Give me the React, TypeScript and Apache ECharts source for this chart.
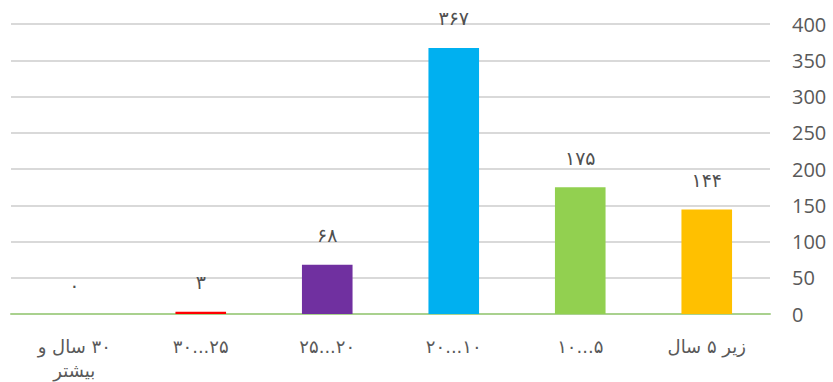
import React, { useEffect, useRef } from "react";
import * as echarts from "echarts";

const categories = ["\u200F۳۰ سال و\nبیشتر", "۳۰...۲۵", "۲۵...۲۰", "۲۰...۱۰", "۱۰...۵", "زیر ۵ سال"];
const values = [0, 3, 68, 367, 175, 144];
const barColors = ["#A5A5A5", "#FF0000", "#7030A0", "#00B0F0", "#92D050", "#FFC000"];
const yTicks = [0, 50, 100, 150, 200, 250, 300, 350, 400];

const toPersian = (n: number) => String(n).replace(/\d/g, (d) => "۰۱۲۳۴۵۶۷۸۹"[Number(d)]);

export default function App() {
  const ref = useRef<HTMLDivElement>(null);
  useEffect(() => {
    if (!ref.current) return;
    const chart = echarts.init(ref.current, undefined, { renderer: "svg" });
    chart.setOption({
      animation: false,
      grid: { left: 11, right: 63, top: 24, bottom: 66, containLabel: false },
      xAxis: {
        type: "category",
        data: categories,
        axisLine: { show: true, lineStyle: { color: "#A9D18E", width: 2 } },
        axisTick: { show: false },
        axisLabel: {
          color: "#595959",
          fontSize: 18,
          fontFamily: "DejaVu Sans",
          margin: 20,
          lineHeight: 24,
          verticalAlign: "top",
        },
      },
      yAxis: {
        type: "value",
        position: "right",
        min: yTicks[0],
        max: yTicks[yTicks.length - 1],
        interval: 50,
        axisLine: { show: false },
        axisTick: { show: false },
        splitLine: { lineStyle: { color: "#D9D9D9", width: 2 } },
        axisLabel: {
          color: "#595959",
          fontSize: 20,
          fontFamily: "Open Sans",
          margin: 22,
          align: "left",
        },
      },
      series: [
        {
          type: "bar",
          data: values.map((v, i) => ({ value: v, itemStyle: { color: barColors[i] } })),
          barWidth: "40%",
          label: {
            show: true,
            position: "top",
            distance: 20,
            color: "#505050",
            fontSize: 19,
            fontFamily: "DejaVu Sans",
            formatter: (p: any) => toPersian(p.value),
          },
        },
      ],
    });
    return () => chart.dispose();
  }, []);
  return (
    <div
      ref={ref}
      style={{ position: "absolute", left: 0, top: 0, width: 833, height: 382, background: "#fff" }}
    />
  );
}
